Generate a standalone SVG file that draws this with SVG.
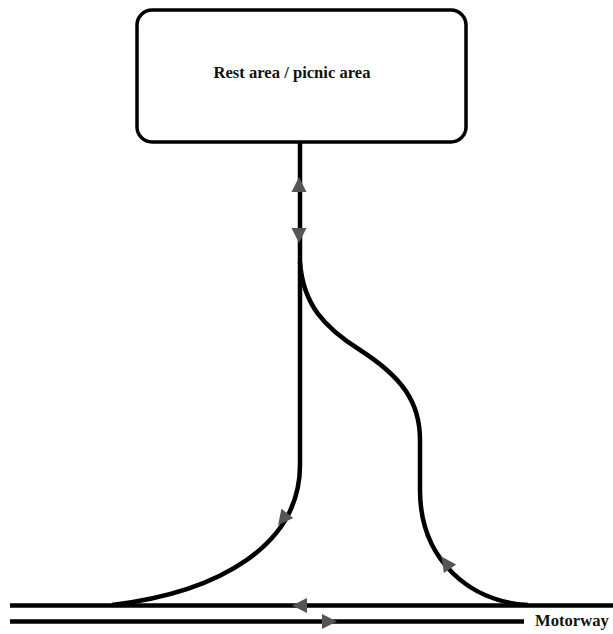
<svg xmlns="http://www.w3.org/2000/svg" width="613" height="634" viewBox="0 0 613 634">
<style>
.road{fill:none;stroke:#000;stroke-width:4.5}
.lbl{font-family:"Liberation Serif","Times New Roman",serif;font-weight:bold;font-size:16.6px;fill:#111}
.ah{fill:#555}
</style>
<defs>
<polygon id="ah" class="ah" points="8,0 -7,-7.5 -7,7.5"/>
</defs>
<rect width="613" height="634" fill="#fff"/>
<g id="rest-area">
<rect x="137" y="10" width="329" height="132" rx="15" ry="15" fill="#fff" stroke="#000" stroke-width="3.5"/>
<text class="lbl" x="292" y="78" text-anchor="middle">Rest area / picnic area</text>
</g>
<g id="motorway">
<line class="road" x1="10" y1="605.5" x2="613" y2="605.5"/>
<line class="road" x1="10" y1="621.5" x2="524" y2="621.5"/>
<text class="lbl" x="535" y="626">Motorway</text>
</g>
<g id="connectors">
<path class="road" d="M300,142 L300,465 C300,545 220,592 112,605"/>
<path class="road" d="M300,262 C303,305 325,328 360,350 C402,377 420,402 420,440 L420,490 C420,560 470,602 528,605"/>
<use href="#ah" transform="translate(299,185) rotate(-90)"/>
<use href="#ah" transform="translate(299,235) rotate(90)"/>
<use href="#ah" transform="translate(283,519) rotate(128)"/>
<use href="#ah" transform="translate(446,563) rotate(-125)"/>
<use href="#ah" transform="translate(300,605.5) rotate(180)"/>
<use href="#ah" transform="translate(329,621.5)"/>
</g>
</svg>
